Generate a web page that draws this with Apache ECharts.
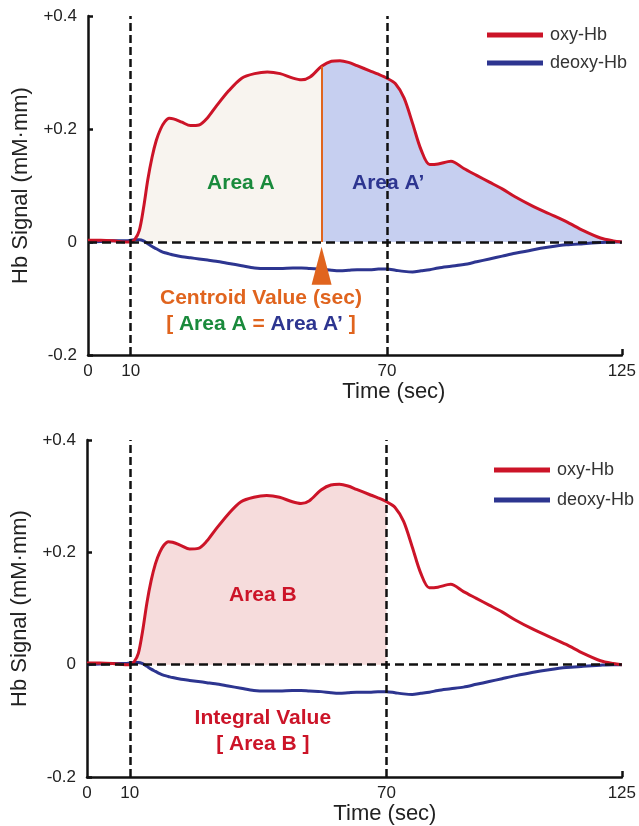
<!DOCTYPE html>
<html>
<head>
<meta charset="utf-8">
<script src="https://cdn.jsdelivr.net/npm/echarts@6/dist/echarts.min.js"></script>
<style>
  html, body { margin: 0; padding: 0; background: #fff; }
  #chart { width: 639px; height: 826px; }
</style>
</head>
<body>
<div id="chart"></div>
<script>
// time points (sec)
const times = [0, 3, 6, 9, 10, 11, 12, 13, 14, 15, 16, 17, 18, 19, 20, 22, 24, 26, 28, 30,
  33, 36, 39, 42, 45, 48, 50, 52, 54.7, 57, 59, 61, 63, 66, 68, 70, 72, 74, 76, 78,
  80, 82, 85, 88, 91, 94, 97, 100, 104, 108, 112, 116, 120, 123, 125]
// oxy-Hb signal
const oxyHb = [0.003, 0.003, 0.002, 0.000, 0.000, 0.005, 0.020, 0.060, 0.110, 0.150, 0.180, 0.200, 0.213, 0.219, 0.218, 0.212, 0.206, 0.207, 0.220, 0.240,
  0.268, 0.290, 0.298, 0.301, 0.298, 0.290, 0.287, 0.292, 0.311, 0.320, 0.321, 0.318, 0.312, 0.303, 0.297, 0.290, 0.280, 0.255, 0.210, 0.163,
  0.137, 0.138, 0.143, 0.130, 0.118, 0.106, 0.094, 0.080, 0.064, 0.050, 0.036, 0.020, 0.007, 0.002, 0.000]
// deoxy-Hb signal
const deoxyHb = [0.000, 0.001, 0.002, 0.002, 0.003, 0.004, 0.004, 0.002, -0.003, -0.008, -0.012, -0.016, -0.019, -0.021, -0.023, -0.026, -0.028, -0.030, -0.032, -0.034,
  -0.038, -0.042, -0.046, -0.047, -0.047, -0.046, -0.046, -0.047, -0.048, -0.050, -0.051, -0.050, -0.049, -0.049, -0.048, -0.048, -0.050, -0.052, -0.053, -0.051,
  -0.049, -0.046, -0.043, -0.040, -0.035, -0.030, -0.025, -0.020, -0.014, -0.009, -0.005, -0.003, -0.001, 0.000, 0.000]

const xLabels = [0, 10, 70, 125]
const yTicks = [-0.2, 0, 0.2, 0.4]
const stimStart = 10
const stimEnd = 70
const centroid = 54.7
const legendNames = ['oxy-Hb', 'deoxy-Hb']

const RED = '#cc1428'
const BLUE = '#2d3590'
const ORANGE = '#e0641e'
const GREEN = '#1a8a3c'
const FONT = 'Liberation Sans'

const pairs = vals => times.map((t, i) => [t, vals[i]])
const between = (vals, a, b) => pairs(vals).filter(p => p[0] >= a && p[0] <= b)
const oxyAt = t => oxyHb[times.indexOf(t)]

const dash = { color: '#111', width: 2.5, type: [8, 4] }

const makeX = (idx, shift) => ({
  type: 'value', gridIndex: idx, min: 0, max: 125,
  name: 'Time (sec)', nameLocation: 'middle', nameGap: 26,
  nameTextStyle: { fontFamily: FONT, fontSize: 22, color: '#222', padding: [0, 0, 0, shift] },
  axisLine: { onZero: false, lineStyle: { color: '#111', width: 2.5 } },
  axisTick: { show: true, inside: true, length: 6, customValues: [125], lineStyle: { color: '#111', width: 2.5 } },
  axisLabel: { customValues: xLabels, fontFamily: FONT, fontSize: 17, color: '#222', margin: 8 },
  splitLine: { show: false }
})

const makeY = idx => ({
  type: 'value', gridIndex: idx, min: yTicks[0], max: yTicks[yTicks.length - 1], interval: 0.2,
  name: 'Hb Signal (mM\u00b7mm)', nameLocation: 'middle', nameGap: 56,
  nameTextStyle: { fontFamily: FONT, fontSize: 22, color: '#222' },
  axisLine: { show: true, onZero: false, lineStyle: { color: '#111', width: 2.5 } },
  axisTick: { show: true, inside: true, length: 5, lineStyle: { color: '#111', width: 2.5 } },
  axisLabel: {
    fontFamily: FONT, fontSize: 17, color: '#222', margin: 11,
    formatter: v => v > 0 ? '+' + v : String(v)
  },
  splitLine: { show: false }
})

const fill = (idx, a, b, color) => ({
  type: 'line', xAxisIndex: idx, yAxisIndex: idx, smooth: 0.3, symbol: 'none', silent: true, z: 1,
  data: between(oxyHb, a, b),
  lineStyle: { width: 0 },
  areaStyle: { color: color, opacity: 1 }
})

const textPoint = (coord, formatter, rich, color) => ({
  coord: coord, symbolSize: 1, itemStyle: { color: 'rgba(0,0,0,0)' },
  label: {
    show: true, position: 'inside', formatter: formatter,
    fontFamily: FONT, fontSize: 21, fontWeight: 'bold', color: color, rich: rich
  }
})

const richText = {
  o: { color: ORANGE, fontFamily: FONT, fontSize: 21, fontWeight: 'bold' },
  g: { color: GREEN, fontFamily: FONT, fontSize: 21, fontWeight: 'bold' },
  b: { color: BLUE, fontFamily: FONT, fontSize: 21, fontWeight: 'bold' }
}

const curves = (idx, extraOxy) => [
  Object.assign({
    name: 'oxy-Hb', type: 'line', xAxisIndex: idx, yAxisIndex: idx, smooth: 0.3, symbol: 'none', z: 4,
    data: pairs(oxyHb), color: RED, lineStyle: { color: RED, width: 3 }
  }, extraOxy),
  {
    name: 'deoxy-Hb', type: 'line', xAxisIndex: idx, yAxisIndex: idx, smooth: 0.3, symbol: 'none', z: 3,
    data: pairs(deoxyHb), color: BLUE, lineStyle: { color: BLUE, width: 3 },
    markLine: {
      silent: true, symbol: 'none', label: { show: false }, lineStyle: dash,
      data: [{ xAxis: stimStart }, { xAxis: stimEnd }, { yAxis: 0, lineStyle: { color: '#111', width: 2.5, type: [9, 5] } }]
    }
  }
]

const chart = echarts.init(document.getElementById('chart'))

const option = {
  animation: false,
  backgroundColor: '#fff',
  grid: [
    { left: 88, top: 16, width: 537, height: 339 },
    { left: 87, top: 440, width: 541, height: 339 }
  ],
  legend: [
    {
      data: legendNames, orient: 'vertical', left: 482, top: 21, icon: 'rect',
      itemWidth: 56, itemHeight: 5, itemGap: 10,
      textStyle: { fontFamily: FONT, fontSize: 18, color: '#333', padding: [0, 0, 0, 2] }
    },
    {
      data: legendNames, orient: 'vertical', left: 489, top: 456, icon: 'rect',
      itemWidth: 56, itemHeight: 5, itemGap: 12,
      textStyle: { fontFamily: FONT, fontSize: 18, color: '#333', padding: [0, 0, 0, 2] }
    }
  ],
  xAxis: [makeX(0, 78), makeX(1, 61)],
  yAxis: [makeY(0), makeY(1)],
  series: [
    fill(0, stimStart, centroid, '#f8f4ef'),
    fill(0, centroid, 125, '#c6cff0'),
    ...curves(0, {
      markLine: {
        silent: true, symbol: 'none', label: { show: false },
        lineStyle: { color: ORANGE, width: 2, type: 'solid' },
        data: [[{ coord: [centroid, 0] }, { coord: [centroid, oxyAt(centroid)] }]]
      },
      markPoint: {
        silent: true,
        data: [
          { coord: [centroid, -0.042], symbol: 'triangle', symbolSize: [20, 38], itemStyle: { color: ORANGE }, label: { show: false } },
          textPoint([35.8, 0.104], 'Area A', null, GREEN),
          textPoint([70.3, 0.104], 'Area A\u2019', null, BLUE),
          textPoint([40.5, -0.101], 'Centroid Value (sec)', null, ORANGE),
          textPoint([40.5, -0.147], '{o|[ }{g|Area A}{o| = }{b|Area A\u2019}{o| ]}', richText, ORANGE)
        ]
      }
    }),
    fill(1, stimStart, stimEnd, '#f6dcdc'),
    ...curves(1, {
      markPoint: {
        silent: true,
        data: [
          textPoint([41.1, 0.122], 'Area B', null, RED),
          textPoint([41.1, -0.096], 'Integral Value', null, RED),
          textPoint([41.1, -0.143], '[ Area B ]', null, RED)
        ]
      }
    })
  ]
}

chart.setOption(option)

window.addEventListener('resize', () => {
  chart && chart.resize()
})
</script>
</body>
</html>
